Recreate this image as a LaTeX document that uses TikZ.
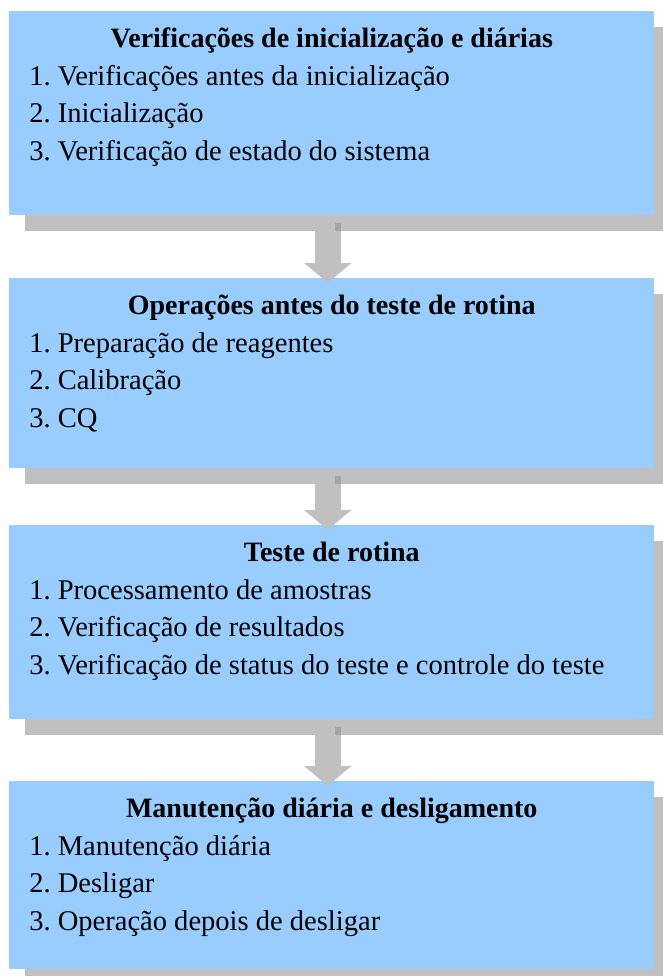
\documentclass[tikz,border=0pt]{standalone}
\usepackage{fontspec}
\setmainfont{Liberation Serif}
\usetikzlibrary{arrows.meta,shadows}
\definecolor{cajaazul}{HTML}{99CCFF}
\definecolor{sombra}{HTML}{C0C0C0}
\definecolor{sombraosc}{HTML}{A6A6A6}
\frenchspacing
\tikzset{
  caja/.style={rectangle, fill=cajaazul, inner sep=0pt, anchor=north west, minimum width=483.75pt,
    drop shadow={shadow xshift=12pt, shadow yshift=-11.5pt, fill=sombra, opacity=1}},
  titulo/.style={anchor=base, inner sep=0pt, font=\fontsize{21}{25}\selectfont\bfseries},
  renglon/.style={anchor=base west, inner sep=0pt, font=\fontsize{21.4}{25}\selectfont},
  flecha/.style={draw=sombra, line width=19.5pt, -{Triangle[width=34.5pt,length=15pt]}, shorten >=-3.75pt}
}
\begin{document}
\begin{tikzpicture}
    \useasboundingbox (0,0) rectangle (496.5pt,-732pt);

    % Cajas
    \node[caja, minimum height=153pt] (verif) at (6.75pt,-8.25pt) {};
    \node[caja, minimum height=142.5pt] (preop) at (6.75pt,-208.5pt) {};
    \node[caja, minimum height=145.5pt] (rotina) at (6.75pt,-393.75pt) {};
    \node[caja, minimum height=141pt] (manut) at (6.75pt,-585.75pt) {};

    % Flechas entre cajas
    \draw[flecha] ([xshift=-3pt]verif.south) -- ([xshift=-3pt]preop.north);
    \draw[flecha] ([xshift=-3pt]preop.south) -- ([xshift=-3pt]rotina.north);
    \draw[flecha] ([xshift=-3pt]rotina.south) -- ([xshift=-3pt]manut.north);
    \fill[sombraosc] ([xshift=2.6pt,yshift=-5.25pt]verif.south) rectangle ([xshift=7.1pt,yshift=-11.5pt]verif.south);
    \fill[sombraosc] ([xshift=2.6pt,yshift=-5.25pt]preop.south) rectangle ([xshift=7.1pt,yshift=-11.5pt]preop.south);
    \fill[sombraosc] ([xshift=2.6pt,yshift=-5.25pt]rotina.south) rectangle ([xshift=7.1pt,yshift=-11.5pt]rotina.south);

    % Textos de la caja 1
    \node[titulo] (verift) at ([yshift=-27pt]verif.north) {Verificações de inicialização e diárias};
    \node[renglon] (verif1) at ([xshift=15pt,yshift=-55.5pt]verif.north west) {1. Verificações antes da inicialização};
    \node[renglon] (verif2) at ([xshift=15pt,yshift=-83.25pt]verif.north west) {2. Inicialização};
    \node[renglon] (verif3) at ([xshift=15pt,yshift=-111.75pt]verif.north west) {3. Verificação de estado do sistema};

    % Textos de la caja 2
    \node[titulo] (preopt) at ([yshift=-27pt]preop.north) {Operações antes do teste de rotina};
    \node[renglon] (preop1) at ([xshift=15pt,yshift=-55.5pt]preop.north west) {1. Preparação de reagentes};
    \node[renglon] (preop2) at ([xshift=15pt,yshift=-83.25pt]preop.north west) {2. Calibração};
    \node[renglon] (preop3) at ([xshift=15pt,yshift=-111.75pt]preop.north west) {3. CQ};

    % Textos de la caja 3
    \node[titulo] (rotinat) at ([yshift=-27pt]rotina.north) {Teste de rotina};
    \node[renglon] (rotina1) at ([xshift=15pt,yshift=-55.5pt]rotina.north west) {1. Processamento de amostras};
    \node[renglon] (rotina2) at ([xshift=15pt,yshift=-83.25pt]rotina.north west) {2. Verificação de resultados};
    \node[renglon] (rotina3) at ([xshift=15pt,yshift=-111.75pt]rotina.north west) {3. Verificação de status do teste e controle do teste};

    % Textos de la caja 4
    \node[titulo] (manutt) at ([yshift=-27pt]manut.north) {Manutenção diária e desligamento};
    \node[renglon] (manut1) at ([xshift=15pt,yshift=-55.5pt]manut.north west) {1. Manutenção diária};
    \node[renglon] (manut2) at ([xshift=15pt,yshift=-83.25pt]manut.north west) {2. Desligar};
    \node[renglon] (manut3) at ([xshift=15pt,yshift=-111.75pt]manut.north west) {3. Operação depois de desligar};

\end{tikzpicture}
\end{document}
